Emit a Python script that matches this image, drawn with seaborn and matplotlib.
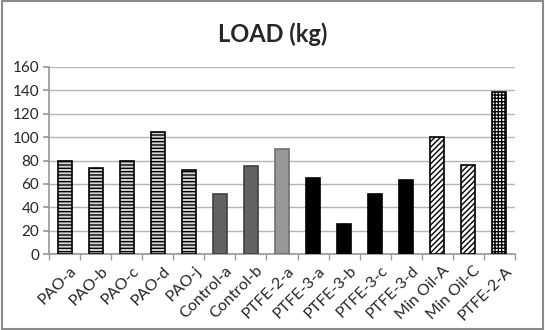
import matplotlib
matplotlib.use("Agg")
import matplotlib.pyplot as plt
import matplotlib.transforms as mtransforms
import seaborn as sns
import pandas as pd
from matplotlib.patches import Rectangle

categories = ["PAO-a", "PAO-b", "PAO-c", "PAO-d", "PAO-j", "Control-a", "Control-b",
              "PTFE-2-a", "PTFE-3-a", "PTFE-3-b", "PTFE-3-c", "PTFE-3-d",
              "Min Oil-A", "Min Oil-C", "PTFE-2-A"]
load_kg = [80, 74, 80, 104, 72, 51, 75, 90, 65, 26, 51, 63, 100, 76, 139]
y_ticks = [0, 20, 40, 60, 80, 100, 120, 140, 160]

fills = (["#d4d4d4"] * 5 + ["#636363"] * 2 + ["#989898"] + ["#000000"] * 4
         + ["#ffffff"] * 2 + ["#ffffff"])
hatches = (["-----"] * 5 + [""] * 3 + [""] * 4 + ["//////"] * 2 + ["+++++"])
edges = (["#000000"] * 5 + ["#404040"] * 2 + ["#707070"] + ["#000000"] * 4
         + ["#000000"] * 3)

sns.set_theme(style="white")
plt.rcParams["font.family"] = ["Lato", "DejaVu Sans"]
plt.rcParams["hatch.linewidth"] = 1.0

df = pd.DataFrame({"cat": categories, "load": load_kg})

fig = plt.figure(figsize=(5.45, 3.30), dpi=100)
ax = fig.add_axes([49 / 545, 76 / 330, (515 - 49) / 545, (254 - 67) / 330])

sns.barplot(data=df, x="cat", y="load", hue="cat", palette=fills, legend=False,
            width=0.45, saturation=1, ax=ax, zorder=3)

for patch, h, ec in zip(ax.patches, hatches, edges):
    patch.set_hatch(h)
    patch.set_edgecolor(ec)
    patch.set_linewidth(1.2)

ax.set_ylim(0, 160)
ax.set_yticks(y_ticks)
ax.set_xlim(-0.5, len(categories) - 0.5)
ax.yaxis.grid(True, color="#b5b5b5", linewidth=1.0, zorder=0)
ax.set_axisbelow(True)
for side in ["top", "right"]:
    ax.spines[side].set_visible(False)
ax.spines["left"].set_color("#9a9a9a")
ax.spines["bottom"].set_color("#9a9a9a")
ax.set_xlabel("")
ax.set_ylabel("")

# category ticks sit between bars
ax.set_xticks(range(len(categories)))
ax.set_xticklabels(categories, rotation=45, ha="right", rotation_mode="anchor",
                   fontsize=11.5)
ax.tick_params(axis="x", length=0, pad=7)
shift = mtransforms.ScaledTranslation(5 / 100, 0, fig.dpi_scale_trans)
for lbl in ax.get_xticklabels():
    lbl.set_transform(lbl.get_transform() + shift)
ax.set_xticks([i - 0.5 for i in range(len(categories) + 1)], minor=True)
ax.tick_params(axis="x", which="minor", length=4, color="#9a9a9a", bottom=True)
ax.tick_params(axis="y", length=4, color="#9a9a9a", left=True, labelsize=11, pad=3)

fig.text(0.5, 0.895, "LOAD (kg)", ha="center", va="center", fontsize=17,
         fontweight="bold")

fig.patches.append(Rectangle((0.004, 0.004), 0.992, 0.992, transform=fig.transFigure,
                             fill=False, edgecolor="#8a8a8a", linewidth=1.5))

fig.savefig("out.png", dpi=100)
